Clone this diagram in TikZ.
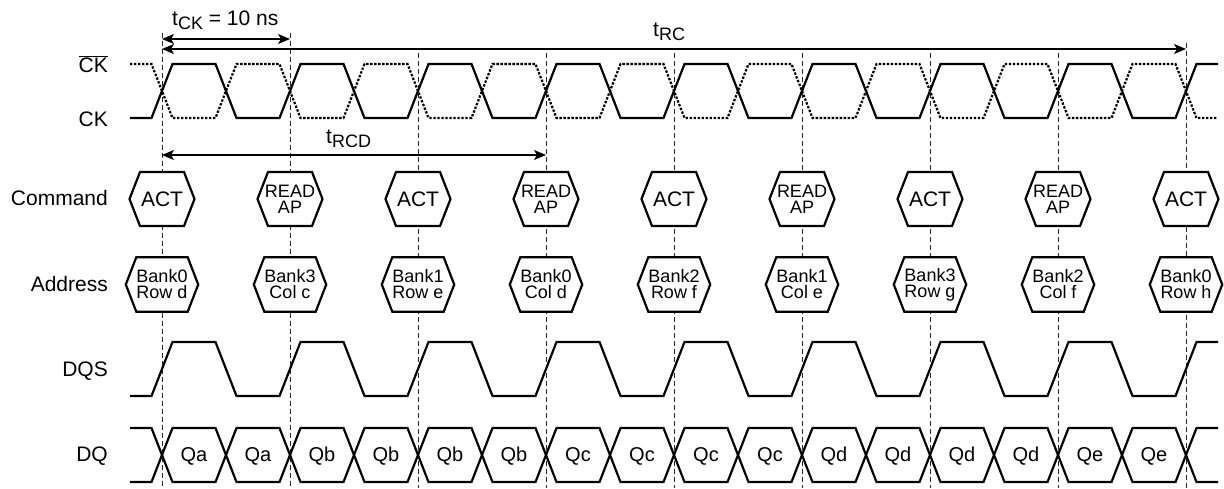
\documentclass[tikz,border=0pt]{standalone}
\usepackage{fontspec}
\setmainfont{Liberation Sans}
\usetikzlibrary{arrows.meta,calc}
\pgfdeclarelayer{bg}
\pgfsetlayers{bg,main}
\begin{document}
\begin{tikzpicture}[x=1pt,y=-1pt,
  wave/.style={line width=2.2pt, line join=miter},
  dotwave/.style={line width=2.2pt, dash pattern=on 2.4pt off 1.6pt},
  guide/.style={line width=0.9pt, dash pattern=on 5pt off 3pt, black!85},
  dim/.style={line width=1.2pt, {Stealth[length=12pt,width=10pt,inset=3pt]}-{Stealth[length=12pt,width=10pt,inset=3pt]}},
  lab/.style={inner sep=0, anchor=base east, font=\fontsize{21}{21}\selectfont},
  tlab/.style={inner sep=0, anchor=base west, font=\fontsize{21}{21}\selectfont},
  hbox/.style={inner sep=0, minimum width=44pt, minimum height=54pt, align=center, font=\fontsize{18}{16}\selectfont},
  abox/.style={inner sep=0, minimum width=44pt, minimum height=54pt, align=center, font=\fontsize{18}{16}\selectfont},
  hexline/.style={line width=2.2pt, fill=white, line join=miter},
  qlab/.style={inner sep=0, anchor=base, font=\fontsize{20}{20}\selectfont},
  big/.style={font=\fontsize{21}{21}\selectfont}
]
\useasboundingbox (0,0) rectangle (1224,488);

% row labels
\node[lab] (lckb) at (108,72) {$\overline{\mbox{CK}}$};
\node[lab] (lck) at (108,126) {CK};
\node[lab] (lcmd) at (108,205) {Command};
\node[lab] (ladr) at (108,291.5) {Address};
\node[lab] (ldqs) at (108,376.5) {DQS};
\node[lab] (ldq) at (108,461.5) {DQ};

% timing labels
\node[tlab] (ttck) at (172,25) {t\raisebox{-4.5pt}{\fontsize{18}{18}\selectfont CK} = 10 ns};
\node[tlab] (ttrc) at (653,36) {t\raisebox{-4.5pt}{\fontsize{18}{18}\selectfont RC}};
\node[tlab] (ttrcd) at (326,143) {t\raisebox{-4.5pt}{\fontsize{18}{18}\selectfont RCD}};

% guide coordinates
\foreach \i in {0,...,8} { \coordinate (gb\i) at ({162+128*\i},488); }
\coordinate (gt0) at (162,33);
\coordinate (gt1) at (290,33);
\foreach \i in {2,...,7} { \coordinate (gt\i) at ({162+128*\i},53); }
\coordinate (gt8) at (1186,43);

% command / address nodes
\foreach \i in {0,2,4,6,8}
  { \node[hbox,big] (c\i) at ({162+128*\i},199) {ACT}; }
\foreach \i in {1,3,5,7}
  { \node[hbox] (c\i) at ({162+128*\i},199.5) {READ\\AP}; }
\foreach \i/\t in {0/{Bank0\\Row d},1/{Bank3\\Col c},2/{Bank1\\Row e},3/{Bank0\\Col d},4/{Bank2\\Row f},5/{Bank1\\Col e},6/{Bank3\\Row g},7/{Bank2\\Col f},8/{Bank0\\Row h}}
  { \node[abox] (a\i) at ({162+128*\i},284.5) {\t}; }

\begin{pgfonlayer}{bg}
  \foreach \i in {0,...,8} { \draw[guide] (gt\i) -- (gb\i); }
  \foreach \i in {0,...,8} {
    \draw[hexline] ({162+128*\i-22},172) -- ({162+128*\i+22},172) -- ({162+128*\i+32.5},199)
      -- ({162+128*\i+22},226) -- ({162+128*\i-22},226) -- ({162+128*\i-32.5},199) -- cycle;
    \draw[hexline] (a\i.north west) -- (a\i.north east) -- ([xshift=10.5pt]a\i.east)
      -- (a\i.south east) -- (a\i.south west) -- ([xshift=-10.5pt]a\i.west) -- cycle;
  }
\end{pgfonlayer}

% dimension arrows
\coordinate (k1) at (162,39); \coordinate (k2) at (290,39);
\coordinate (r1) at (162,49); \coordinate (r2) at (1186,49);
\coordinate (d1) at (162,155); \coordinate (d2) at (546,155);
\draw[dim] (k1) -- (k2);
\draw[dim] (r1) -- (r2);
\draw[dim] (d1) -- (d2);

% CK bar (dotted)
\draw[dotwave] (130,64) \foreach \k in {0,...,7} {
   -- ({151.5+128*\k},64) -- ({172.5+128*\k},118) -- ({215.5+128*\k},118) -- ({236.5+128*\k},64) }
   -- (1175.5,64) -- (1196.5,118) -- (1218,118);
% CK
\draw[wave] (130,118) \foreach \k in {0,...,7} {
   -- ({151.5+128*\k},118) -- ({172.5+128*\k},64) -- ({215.5+128*\k},64) -- ({236.5+128*\k},118) }
   -- (1175.5,118) -- (1196.5,64) -- (1218,64);
% DQS
\draw[wave] (130,396) \foreach \k in {0,...,7} {
   -- ({151.5+128*\k},396) -- ({172.5+128*\k},342) -- ({215.5+128*\k},342) -- ({236.5+128*\k},396) }
   -- (1175.5,396) -- (1196.5,342) -- (1218,342);

% DQ
\draw[wave] (130,428) -- (151.5,428) -- (162,455) -- (151.5,482) -- (130,482);
\foreach \j in {0,...,15} {
  \draw[wave] ({162+64*\j},455) -- ({172.5+64*\j},428) -- ({215.5+64*\j},428) -- ({226+64*\j},455)
     -- ({215.5+64*\j},482) -- ({172.5+64*\j},482) -- cycle;
}
\draw[wave] (1218,428) -- (1196.5,428) -- (1186,455) -- (1196.5,482) -- (1218,482);
\foreach \j/\q in {0/Qa,1/Qa,2/Qb,3/Qb,4/Qb,5/Qb,6/Qc,7/Qc,8/Qc,9/Qc,10/Qd,11/Qd,12/Qd,13/Qd,14/Qe,15/Qe}
  { \node[qlab] (q\j) at ({194+64*\j},461.5) {\q}; }
\end{tikzpicture}
\end{document}
